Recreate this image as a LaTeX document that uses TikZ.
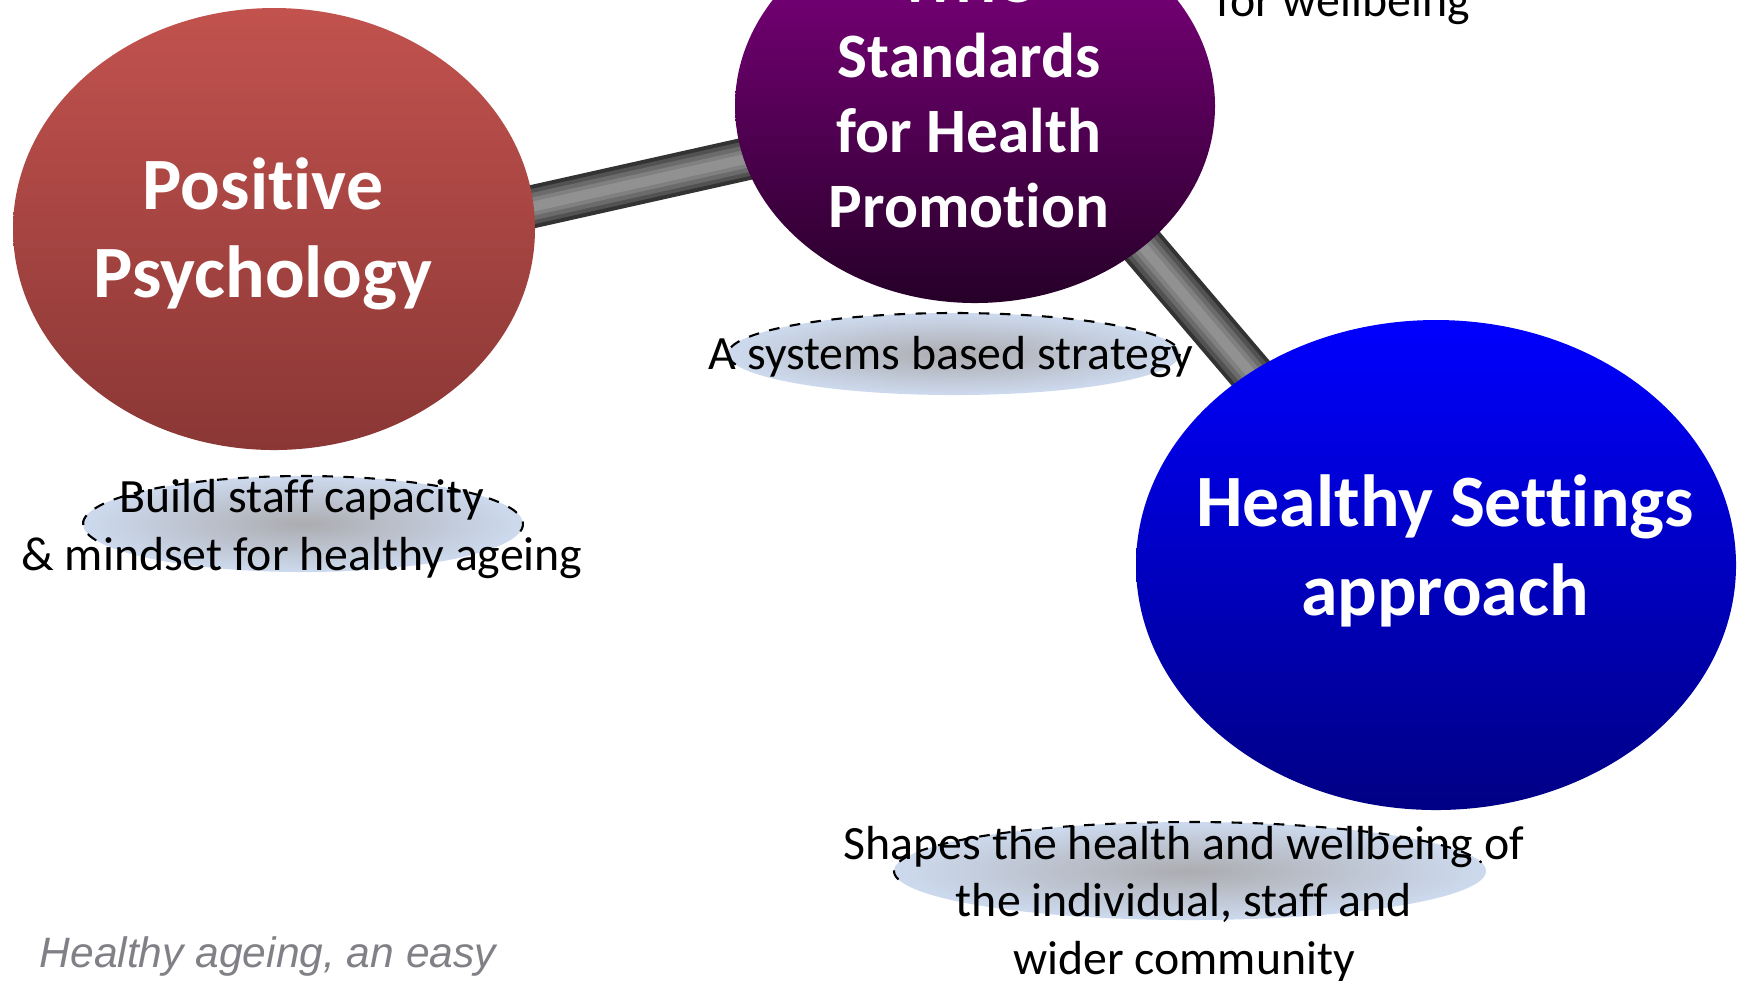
\documentclass[tikz,border=0pt]{standalone}
\usepackage{fontspec}
\setmainfont[Ligatures={NoCommon,NoContextual}, Contextuals=NoAlternate]{Carlito}
\newfontfamily\captionfont{Liberation Sans}
\usetikzlibrary{shapes.geometric, backgrounds}

\definecolor{ppTop}{RGB}{194,82,78}
\definecolor{ppBottom}{RGB}{138,55,53}
\definecolor{whoTop}{RGB}{134,0,134}
\definecolor{whoBottom}{RGB}{38,0,40}
\definecolor{hsaTop}{RGB}{0,0,255}
\definecolor{hsaBottom}{RGB}{0,0,132}
\definecolor{haloBlue}{RGB}{205,218,238}
\definecolor{haloGrey}{RGB}{172,172,176}
\definecolor{captionGrey}{RGB}{128,128,134}

\begin{document}
\begin{tikzpicture}[
	bubble/.style={ellipse, inner sep=0pt},
	bigtext/.style={text=white, inner sep=0pt, align=center, font=\fontsize{21}{25.2}\selectfont\bfseries},
	halo/.style={ellipse, inner sep=0pt, inner color=haloGrey, outer color=haloBlue},
	halotext/.style={inner sep=0pt, align=center, font=\fontsize{13.6}{16.3}\selectfont},
	haloedge/.style={dashed, line width=0.6pt}
]
	
	\useasboundingbox (0,0) rectangle (17.42,-9.80);
	\clip (0,0) rectangle (17.42,-9.80);
	
	% Ba bong lon
	\node[bubble, top color=ppTop, bottom color=ppBottom, minimum width=5.22cm, minimum height=4.42cm] (pp) at (2.74,-2.29) {};
	\node[bubble, top color=whoTop, bottom color=whoBottom, minimum width=4.80cm, minimum height=3.94cm] (who) at (9.75,-1.06) {};
	\node[bubble, top color=hsaTop, bottom color=hsaBottom, minimum width=6.00cm, minimum height=4.90cm] (hsa) at (14.36,-5.65) {};
	
	% Thanh noi phia sau
	\begin{scope}[on background layer]
		\foreach \w/\s in {0.43/80, 0.35/68, 0.27/58, 0.18/50, 0.10/43}
			\draw[black!\s, line width=\w cm, shorten <=-4mm, shorten >=-4mm] (pp.5) -- (who.193);
		\foreach \w/\s in {0.45/80, 0.37/68, 0.28/58, 0.19/50, 0.10/43}
			\draw[black!\s, line width=\w cm, shorten <=-4mm, shorten >=-4mm] (who.320) -- (hsa.134);
	\end{scope}
	
	% Chu trong bong
	\node[bigtext] (pptext) at (2.63,-2.34) {Positive\\Psychology};
	\node[bigtext, font=\fontsize{18}{21.3}\selectfont\bfseries] (whotext) at (9.69,-0.945) {WHO\\Standards\\for Health\\Promotion};
	\node[bigtext] (hsatext) at (14.45,-5.51) {Healthy Settings\\approach};
	
	% Nhan 1
	\node[halo, minimum width=4.52cm, minimum height=0.82cm] (sysbg) at (9.54,-3.54) {};
	\draw[haloedge] (sysbg.center) ++(195:2.26 and 0.41) arc[start angle=195, end angle=-5, x radius=2.26, y radius=0.41];
	\node[halotext, anchor=base] (systext) at (9.51,-3.69) {A systems based strategy};
	
	% Nhan 2
	\node[halo, minimum width=4.40cm, minimum height=0.96cm] (bscbg) at (3.03,-5.24) {};
	\draw[haloedge] (bscbg.center) ++(200:2.20 and 0.48) arc[start angle=200, end angle=-10, x radius=2.20, y radius=0.48];
	\node[halotext] (bsctext) at (3.02,-5.29) {Build staff capacity\\\& mindset for healthy ageing};
	
	% Nhan 3
	\node[halo, minimum width=5.92cm, minimum height=0.98cm] (shpbg) at (11.90,-8.71) {};
	\draw[haloedge] (shpbg.center) ++(190:2.96 and 0.49) arc[start angle=190, end angle=10, x radius=2.96, y radius=0.49];
	\node[halotext] (shptext) at (11.84,-9.04) {Shapes the health and wellbeing of\\the individual, staff and\\wider community};
	
	% Phan con lai
	\node[halotext, anchor=base] (wellbeing) at (13.43,-0.16) {for wellbeing};
	\node[inner sep=0pt, anchor=base west, text=captionGrey, font=\captionfont\itshape\fontsize{12.1}{14.5}\selectfont] (caption) at (0.39,-9.67) {Healthy ageing, an easy};
	
\end{tikzpicture}
\end{document}
